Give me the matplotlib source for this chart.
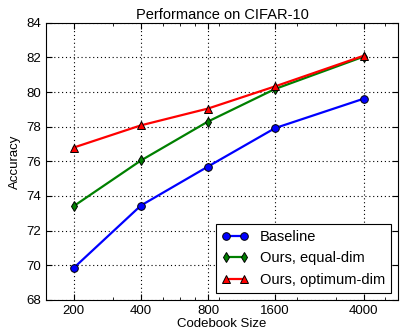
import matplotlib
matplotlib.use("Agg")
import matplotlib.pyplot as plt
from matplotlib.ticker import FixedLocator, FixedFormatter, LogLocator, NullFormatter

plt.rcParams['font.family'] = ['Liberation Sans', 'DejaVu Sans']

sizes = [200, 400, 800, 1600, 4000]
baseline = [69.85, 73.45, 75.7, 77.92, 79.62]
equal_dim = [73.42, 76.05, 78.3, 80.18, 82.05]
optimum_dim = [76.8, 78.08, 79.05, 80.33, 82.1]

fig = plt.figure(figsize=(4.0, 3.31), dpi=100)
ax = fig.add_axes([0.115, 0.094, 0.88, 0.837])

ax.plot(sizes, baseline, color='b', lw=1.6, marker='o', ms=5.5, mec='k', mew=0.7, label='Baseline')
ax.plot(sizes, equal_dim, color='g', lw=1.6, marker='d', ms=5.5, mec='k', mew=0.7, label='Ours, equal-dim')
ax.plot(sizes, optimum_dim, color='r', lw=1.6, marker='^', ms=5.5, mec='k', mew=0.7, label='Ours, optimum-dim')

ax.set_xscale('log')
ax.set_xlim(150, 5700)
ax.set_ylim(68, 84)
ax.xaxis.set_major_locator(FixedLocator(sizes))
ax.xaxis.set_major_formatter(FixedFormatter([str(s) for s in sizes]))
ax.xaxis.set_minor_locator(LogLocator(base=10, subs=range(2, 10)))
ax.xaxis.set_minor_formatter(NullFormatter())
ax.set_yticks(range(68, 85, 2))
ax.tick_params(direction='in', top=True, right=True, labelsize=9.5, length=4)
ax.tick_params(which='minor', direction='in', top=True, length=2)
ax.grid(True, color='k', linestyle=(0, (1, 2.5)), linewidth=0.8)

ax.set_xlabel('Codebook Size', fontsize=9.5, labelpad=1)
ax.set_ylabel('Accuracy', fontsize=9.5)
ax.set_title('Performance on CIFAR-10', fontsize=10.5, pad=3)

leg = ax.legend(loc='lower right', numpoints=2, fontsize=10.5, fancybox=False,
                framealpha=1, edgecolor='k', borderaxespad=0.5, handlelength=1.8,
                labelspacing=0.5, borderpad=0.4)
leg.get_frame().set_linewidth(0.8)

fig.savefig('out.png', dpi=100)
